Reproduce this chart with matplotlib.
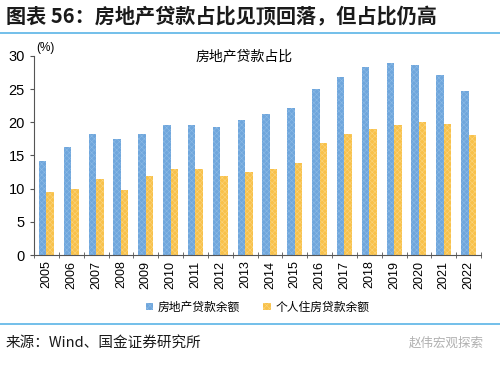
import matplotlib
matplotlib.use('Agg')
import matplotlib.pyplot as plt
import numpy as np

plt.rcParams['font.family'] = ['Liberation Sans', 'Noto Sans CJK SC']
plt.rcParams['hatch.linewidth'] = 0.4

years = [str(y) for y in range(2005, 2023)]
re_loans = [14.2, 16.3, 18.3, 17.5, 18.3, 19.6, 19.6, 19.3, 20.3, 21.2,
            22.2, 25.0, 26.8, 28.4, 29.0, 28.7, 27.1, 24.7]
mortgage = [9.5, 10.0, 11.5, 9.8, 11.9, 12.9, 13.0, 11.9, 12.5, 13.0,
            13.9, 16.9, 18.2, 19.0, 19.6, 20.0, 19.8, 18.1]

CJK = ['Noto Sans CJK SC', 'DejaVu Sans']
BLUE = '#6fa6dc'
ORANGE = '#f8c14a'

fig = plt.figure(figsize=(5, 3.68), dpi=100)
ax = fig.add_axes([0.068, 0.307, 0.894, 0.541])

x = np.arange(len(years))
w = 0.3
ax.bar(x - w / 2, re_loans, w, color=BLUE, hatch='xxxxxx', edgecolor='#8dbbe6', linewidth=0,
       label='房地产贷款余额')
ax.bar(x + w / 2, mortgage, w, color=ORANGE, hatch='xxxxxx', edgecolor='#fbd57e', linewidth=0,
       label='个人住房贷款余额')

ax.set_xlim(-0.5, len(years) - 0.5)
ax.set_ylim(0, 30)
ax.set_yticks(range(0, 31, 5))
ax.set_xticks(x)
ax.set_xticklabels(years, rotation=90, fontsize=9)
ax.set_xticks(np.arange(-0.5, len(years), 1), minor=True)
ax.tick_params(axis='x', which='major', length=0, pad=4)
ax.tick_params(axis='x', which='minor', length=4, direction='inout', color='#555555')
ax.tick_params(axis='y', length=3, direction='out', labelsize=10.5, color='#555555')
for s in ['top', 'right']:
    ax.spines[s].set_visible(False)
ax.spines['left'].set_color('#555555')
ax.spines['bottom'].set_color('#555555')

ax.text(0.005, 1.01, '(%)', transform=ax.transAxes, fontsize=8.5, va='bottom')
ax.text(0.47, 1.0, '房地产贷款占比', transform=ax.transAxes, fontsize=10, ha='center', va='center',
        family=CJK)

leg = ax.legend(loc='upper center', bbox_to_anchor=(0.5, -0.175), ncol=2, frameon=False,
                prop={'family': CJK, 'size': 8.5}, handlelength=0.6, handleheight=0.6,
                handletextpad=0.4, columnspacing=2.0)

fig.text(0.012, 0.955, '图表 56：房地产贷款占比见顶回落，但占比仍高', fontsize=14.5, weight='bold',
         family=CJK, va='center', color='#1a1a1a')
fig.add_artist(plt.Line2D([0, 1], [0.91, 0.91], color='#5ab4e6', linewidth=1.2))
fig.add_artist(plt.Line2D([0, 1], [0.12, 0.12], color='#5ab4e6', linewidth=1.2))
fig.text(0.012, 0.068, '来源：Wind、国金证券研究所', fontsize=10.5, family=CJK, va='center',
         color='#1a1a1a')
fig.text(0.968, 0.068, '赵伟宏观探索', fontsize=9, family=CJK, va='center', ha='right',
         color='#b0b0b0')

fig.savefig('out.png', dpi=100)
